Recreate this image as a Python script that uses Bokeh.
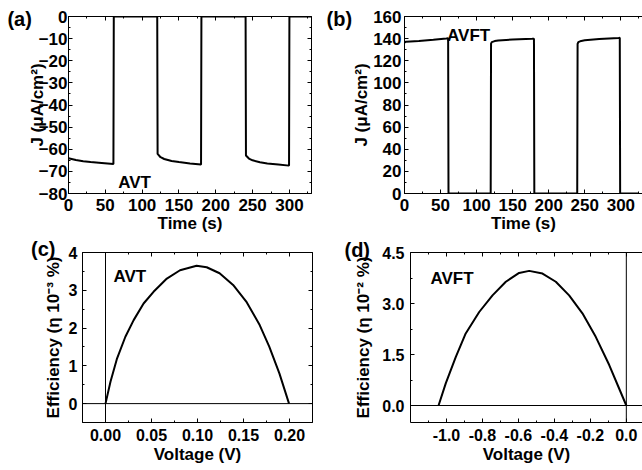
from bokeh.plotting import figure
from bokeh.models import (Range1d, LinearAxis, SingleIntervalTicker, Span, Label,
                          NumeralTickFormatter, CustomJSTickFormatter)
from bokeh.layouts import column, row
from bokeh.embed import file_html
from bokeh.resources import INLINE

# ---------------- data ----------------
a_time = [0, 10, 20, 30, 45, 61, 61.5, 120.5, 121, 125, 130, 140, 150, 165, 180, 180.5,
          240.5, 241, 245, 250, 260, 270, 285, 299.5, 300, 330]
a_current = [-64.1, -64.9, -65.4, -65.8, -66.2, -66.7, 0, 0, -62.1, -63.6, -64.4, -65.3,
             -65.8, -66.4, -66.9, 0, 0, -62.8, -64.2, -65.0, -65.9, -66.4, -66.9, -67.4, 0, 0]

b_time = [0, 2, 20, 40, 58, 60.5, 61, 119.5, 120, 121, 125, 130, 150, 177, 179.5, 180,
          239.5, 240, 241, 245, 250, 270, 297, 298.5, 299, 325]
b_current = [136.5, 137.2, 137.8, 138.9, 140.2, 140.4, 0, 0, 135.5, 136.8, 137.8, 138.4,
             139.2, 139.8, 139.9, 0, 0, 135.2, 136.8, 137.9, 138.5, 139.6, 140.5, 140.7, 0, 0]

c_voltage = [0.0, 0.0054, 0.0126, 0.0216, 0.0306, 0.0414, 0.0522, 0.0667, 0.081, 0.099,
             0.110, 0.124, 0.1387, 0.153, 0.1676, 0.178, 0.189, 0.1995]
c_eff = [0.0, 0.58, 1.20, 1.77, 2.21, 2.65, 2.96, 3.31, 3.53, 3.65, 3.61, 3.45, 3.14,
         2.70, 2.08, 1.51, 0.80, 0.0]

d_voltage = [-1.044, -1.004, -0.948, -0.893, -0.818, -0.744, -0.670, -0.596, -0.540,
             -0.466, -0.392, -0.318, -0.244, -0.170, -0.095, -0.040, 0.0]
d_eff = [0.0, 0.65, 1.43, 2.12, 2.75, 3.24, 3.64, 3.90, 3.96, 3.88, 3.64, 3.24, 2.71,
         2.02, 1.19, 0.50, 0.0]

FONT = "Liberation Sans"


def style_axis(ax, size, standoff=3, label_standoff=2, show_labels=True):
    ax.axis_line_color = "black"
    ax.axis_line_width = 1
    ax.major_tick_in = 4
    ax.major_tick_out = 0
    ax.minor_tick_in = 2
    ax.minor_tick_out = 0
    ax.major_tick_line_color = "black"
    ax.minor_tick_line_color = "black"
    ax.major_label_text_font = FONT
    ax.major_label_text_font_style = "bold"
    ax.major_label_text_color = "black"
    ax.major_label_text_font_size = size
    ax.axis_label_text_font = FONT
    ax.axis_label_text_font_style = "bold"
    ax.axis_label_text_font_size = "17px"
    ax.axis_label_text_color = "black"
    if show_labels:
        ax.major_label_standoff = standoff
        ax.axis_label_standoff = label_standoff
    else:
        ax.formatter = CustomJSTickFormatter(code="return ''")
        ax.major_label_standoff = 0
        ax.axis_label_standoff = 0


def make(width, height, xr, yr, xint, yint, borders, xlabel, ylabel, size,
         xstand, xlabstand, ystand, ylabstand, xfmt=None, yfmt=None, right_axis=True):
    p = figure(width=width, height=height, x_range=Range1d(*xr), y_range=Range1d(*yr),
               output_backend="svg", toolbar_location=None,
               min_border_left=borders[0], min_border_right=borders[1],
               min_border_top=borders[2], min_border_bottom=borders[3])
    p.grid.visible = False
    p.outline_line_color = None
    p.background_fill_color = "white"
    p.border_fill_color = "white"
    p.xaxis.ticker = SingleIntervalTicker(interval=xint, num_minor_ticks=2)
    p.yaxis.ticker = SingleIntervalTicker(interval=yint, num_minor_ticks=2)
    p.xaxis.axis_label = xlabel
    p.yaxis.axis_label = ylabel
    for ax in p.xaxis:
        style_axis(ax, size, standoff=xstand, label_standoff=xlabstand)
    for ax in p.yaxis:
        style_axis(ax, size, standoff=ystand, label_standoff=ylabstand)
    if xfmt:
        p.xaxis.formatter = NumeralTickFormatter(format=xfmt)
    if yfmt:
        p.yaxis.formatter = NumeralTickFormatter(format=yfmt)
    top = LinearAxis(ticker=SingleIntervalTicker(interval=xint, num_minor_ticks=2))
    style_axis(top, size, show_labels=False)
    p.add_layout(top, "above")
    if right_axis:
        rt = LinearAxis(ticker=SingleIntervalTicker(interval=yint, num_minor_ticks=2))
        style_axis(rt, size, show_labels=False)
        p.add_layout(rt, "right")
    return p


def note(p, text, x, y, size="17px"):
    p.add_layout(Label(x=x, y=y, text=text, text_font=FONT, text_font_style="bold",
                       text_font_size=size, text_baseline="alphabetic", text_color="black"))


def panel_tag(p, text, x, y):
    # placed in the left side panel so that it is not clipped to the frame
    p.add_layout(Label(x=x, y=y, text=text, text_font=FONT, text_font_style="bold",
                       text_font_size="20px", text_baseline="alphabetic",
                       text_color="black"), "left")


# (a)
pa = make(321, 238, (0, 330), (-80, 0), 50, 10, (68, 10, 16, 43),
          "Time (s)", "J (\u03bcA/cm\u00b2)", "17px", 5, 0, 1, -11)
pa.line(a_time, a_current, line_color="black", line_width=2)
note(pa, "AVT", 67.5, -75.2)
panel_tag(pa, "(a)", -83, -1.3)

# (b)
pb = make(321, 238, (0, 330), (0, 160), 50, 20, (83, 0, 16, 45),
          "Time (s)", "J (\u03bcA/cm\u00b2)", "17px", 5, 0, 3, -1, right_axis=False)
pb.line(b_time, b_current, line_color="black", line_width=2)
note(pb, "AVFT", 59, 142.8)
panel_tag(pb, "(b)", -108, 157.3)

# (c)
pc = make(321, 232, (-0.025, 0.225), (-0.5, 4), 0.05, 1, (82, 9, 14, 48),
          "Voltage (V)", "Efficiency (\u03b7 10\u207b\u00b3 %)", "16px", 6, 1, 5, 3,
          xfmt="0.00")
pc.add_layout(Span(location=0, dimension="height", line_color="black", line_width=1))
pc.add_layout(Span(location=0, dimension="width", line_color="black", line_width=1))
pc.line(c_voltage, c_eff, line_color="black", line_width=2)
note(pc, "AVT", 0.0086, 3.37)
panel_tag(pc, "(c)", -0.081, 4.10)

# (d)
pd = make(321, 232, (-1.2, 0.09), (-0.5, 4.5), 0.2, 1.5, (89, 0, 13, 48),
          "Voltage (V)", "Efficiency (\u03b7 10\u207b\u00b2 %)", "16px", 6, 1, 6, 6,
          xfmt="0.0", yfmt="0.0", right_axis=False)
pd.add_layout(Span(location=0, dimension="height", line_color="black", line_width=1))
pd.add_layout(Span(location=0, dimension="width", line_color="black", line_width=1))
pd.line(d_voltage, d_eff, line_color="black", line_width=2)
note(pd, "AVFT", -1.089, 3.74)
panel_tag(pd, "(d)", -1.567, 4.57)

layout = column(row(pa, pb), row(pc, pd))
open("out.html", "w").write(file_html(layout, INLINE))
